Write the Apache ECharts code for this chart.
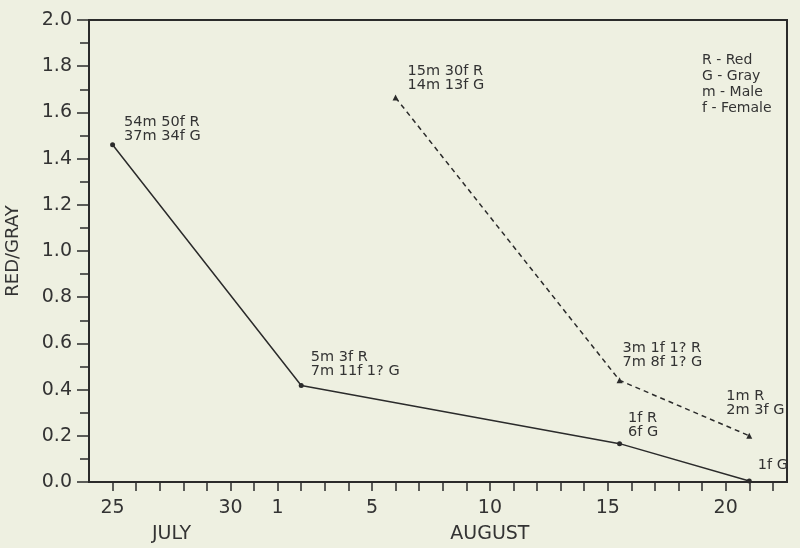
<!DOCTYPE html>
<html>
<head>
<meta charset="utf-8">
<script src="https://cdn.jsdelivr.net/npm/echarts@6/dist/echarts.min.js"></script>
<style>
  html, body { margin: 0; padding: 0; background: #eef0e1; }
  #chart { width: 800px; height: 548px; }
</style>
</head>
<body>
<div id="chart"></div>
<script>
// days counted from July: Aug 1 = 32
const solidDays = [25, 33, 46.5, 52];
const solidRatio = [1.46, 0.418, 0.166, 0.004];
const solidNotes = ['54m 50f R\n37m 34f G', '5m 3f R\n7m 11f 1? G', '1f R\n6f G', '1f G'];
const solidNoteOffsets = [[14, -27], [12, -33], [11, -30], [11, -20]];

const dashedDays = [37, 46.5, 52];
const dashedRatio = [1.664, 0.44, 0.2];
const dashedNotes = ['15m 30f R\n14m 13f G', '3m 1f 1? R\n7m 8f 1? G', '1m R\n2m 3f G'];
const dashedNoteOffsets = [[15, -30], [6, -36], [-20, -44]];

const dayTicks = [25, 26, 27, 28, 29, 30, 31, 32, 33, 34, 35, 36, 37, 38, 39,
  40, 41, 42, 43, 44, 45, 46, 47, 48, 49, 50, 51, 52, 53];
const dayLabelValues = [25, 30, 32, 36, 41, 46, 51];
const dayLabelText = ['25', '30', '1', '5', '10', '15', '20'];
const monthValues = [27.5, 41];
const monthNames = ['JULY', 'AUGUST'];

const legendLines = ['R - Red', 'G - Gray', 'm - Male', 'f - Female'];

const ink = '#2b2b2b';
const font = 'DejaVu Sans';

const chart = echarts.init(document.getElementById('chart'), null, { renderer: 'canvas' });

const makeData = (days, ratio, notes, offsets) => days.map((d, i) => ({
  value: [d, ratio[i]],
  label: {
    show: true,
    formatter: notes[i],
    position: offsets[i],
    align: 'left',
    verticalAlign: 'top',
    color: '#333',
    fontFamily: font,
    fontSize: 14.5,
    lineHeight: 14
  }
}));

const option = {
  animation: false,
  backgroundColor: '#eef0e1',
  grid: {
    left: 89,
    right: 13,
    top: 20,
    bottom: 66,
    outerBoundsMode: 'none',
    containLabel: false,
    show: true,
    borderColor: ink,
    borderWidth: 2
  },
  xAxis: [
    {
      type: 'value',
      min: 24,
      max: 53.6,
      splitLine: { show: false },
      axisLine: { show: true, onZero: false, lineStyle: { color: ink, width: 2 } },
      axisTick: {
        show: true,
        length: 9,
        customValues: dayTicks,
        lineStyle: { color: ink, width: 1.5 }
      },
      axisLabel: {
        customValues: dayLabelValues,
        formatter: v => dayLabelText[dayLabelValues.indexOf(v)] || '',
        margin: 17,
        color: '#333',
        fontFamily: font,
        fontSize: 19
      }
    },
    {
      type: 'value',
      position: 'bottom',
      min: 24,
      max: 53.6,
      splitLine: { show: false },
      axisLine: { show: false },
      axisTick: { show: false },
      axisLabel: {
        customValues: monthValues,
        formatter: v => monthNames[monthValues.indexOf(v)] || '',
        margin: 43,
        color: '#333',
        fontFamily: font,
        fontSize: 19
      }
    }
  ],
  yAxis: {
    type: 'value',
    min: 0,
    max: 2,
    interval: 0.2,
    name: 'RED/GRAY',
    nameLocation: 'middle',
    nameGap: 67,
    nameTextStyle: { color: '#333', fontFamily: font, fontSize: 18 },
    splitLine: { show: false },
    axisLine: { show: true, lineStyle: { color: ink, width: 2 } },
    axisTick: { show: true, length: 12, lineStyle: { color: ink, width: 1.5 } },
    minorTick: { show: true, splitNumber: 2, length: 9, lineStyle: { color: ink, width: 1.5 } },
    axisLabel: {
      formatter: v => v.toFixed(1),
      margin: 17,
      color: '#333',
      fontFamily: font,
      fontSize: 19
    }
  },
  series: [
    {
      type: 'line',
      data: makeData(solidDays, solidRatio, solidNotes, solidNoteOffsets),
      symbol: 'circle',
      symbolSize: 5,
      showAllSymbol: true,
      lineStyle: { color: ink, width: 1.5 },
      itemStyle: { color: ink }
    },
    {
      type: 'line',
      data: makeData(dashedDays, dashedRatio, dashedNotes, dashedNoteOffsets),
      symbol: 'triangle',
      symbolSize: 6,
      showAllSymbol: true,
      lineStyle: { color: ink, width: 1.5, type: [5, 4] },
      itemStyle: { color: ink }
    }
  ],
  graphic: [
    {
      type: 'text',
      left: 702,
      top: 52,
      style: {
        text: legendLines.join('\n'),
        fill: '#333',
        font: '14px "DejaVu Sans"',
        lineHeight: 16
      }
    }
  ]
};

chart.setOption(option);
</script>
</body>
</html>
